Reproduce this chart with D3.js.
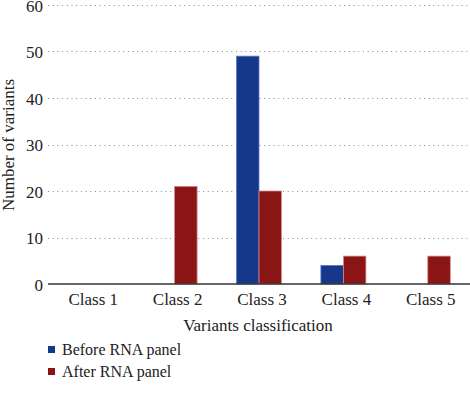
<!DOCTYPE html>
<html><head><meta charset="utf-8">
<script src="https://cdn.jsdelivr.net/npm/d3@7"></script>
<style>
body{margin:0;background:#fff}
svg{display:block}
svg text, svg .tick text{font-family:'Liberation Serif', serif !important;}
</style>
</head><body>
<script>
const categories = ["Class 1","Class 2","Class 3","Class 4","Class 5"];
const seriesNames = ["Before RNA panel","After RNA panel"];
const before = [0,0,49,4,0];
const after = [0,21,20,6,6];
const yTicks = [0,10,20,30,40,50,60];
const colors = ["#15388a","#8b1414"];
const strokes = ["#5b7bc4","#d88a8a"];

const W=470,H=398;
const m={left:48,right:0,top:5,bottom:114};
const svg=d3.select("body").append("svg").attr("width",W).attr("height",H);
const x=d3.scaleBand().domain(categories).range([m.left,W-m.right]);
const x1=d3.scaleBand().domain(seriesNames).range([x.bandwidth()/2-22.5,x.bandwidth()/2+22.5]);
const y=d3.scaleLinear().domain([0,60]).range([H-m.bottom,m.top]);

function txt(sel,size){ return sel.attr("font-family","Liberation Serif").style("font-family","'Liberation Serif', serif").style("font-size",size+"px").attr("fill","#222"); }

svg.append("g").selectAll("line").data(yTicks.filter(d=>d>0)).join("line")
 .attr("x1",m.left).attr("x2",W).attr("y1",d=>Math.round(y(d))+0.5).attr("y2",d=>Math.round(y(d))+0.5)
 .attr("stroke","#888").attr("stroke-width",1).attr("stroke-dasharray","1,3.7");

const ya=svg.append("g").attr("transform",`translate(${m.left},0)`)
 .call(d3.axisLeft(y).tickValues(yTicks).tickSize(0).tickPadding(5));
ya.select(".domain").remove();
ya.attr("font-family","Liberation Serif");
txt(ya.selectAll("text"),17).attr("dy","0.36em");

const data=[before,after];
const g=svg.append("g");
categories.forEach((c,i)=>{
  seriesNames.forEach((s,j)=>{
    const v=data[j][i];
    if(v>0){
      g.append("rect").attr("x",x(c)+x1(s)).attr("width",x1.bandwidth())
       .attr("y",y(v)).attr("height",y(0)-y(v))
       .attr("fill",colors[j]).attr("stroke",strokes[j]).attr("stroke-width",0.8);
    }
  });
});

svg.append("line").attr("x1",m.left).attr("x2",W).attr("y1",y(0)).attr("y2",y(0)).attr("stroke","#333").attr("stroke-width",1.5);

const xa=svg.append("g").attr("transform",`translate(0,${y(0)})`)
 .call(d3.axisBottom(x).tickSize(0).tickPadding(9));
xa.select(".domain").remove();
xa.attr("font-family","Liberation Serif");
txt(xa.selectAll("text"),17).attr("dx",3);

txt(svg.append("text"),17).attr("x",258).attr("y",331).attr("text-anchor","middle").text("Variants classification");
txt(svg.append("text"),17).attr("transform","translate(14,145) rotate(-90)").attr("text-anchor","middle").text("Number of variants");

seriesNames.forEach((s,j)=>{
  const yy=350+j*22;
  svg.append("rect").attr("x",48).attr("y",yy-4).attr("width",7).attr("height",7).attr("fill",colors[j]);
  txt(svg.append("text"),16).attr("x",62).attr("y",yy+5).text(s);
});
</script>
</body></html>
